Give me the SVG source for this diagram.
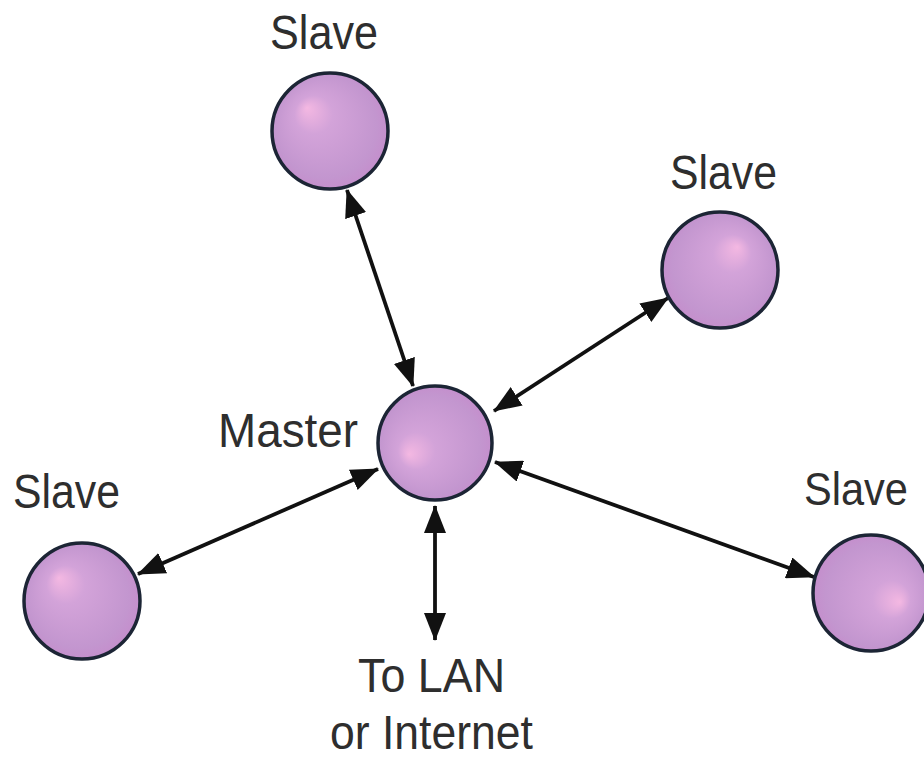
<svg xmlns="http://www.w3.org/2000/svg" width="924" height="758" viewBox="0 0 924 758">
<style>
.lbl{font-family:"Liberation Sans",Arial,sans-serif;font-size:48px;fill:#2e2e2e;}
.ball{stroke:#1c2535;stroke-width:3.5;}
.conn{stroke:#111;stroke-width:3.8;fill:none;marker-start:url(#ah);marker-end:url(#ah);}
</style>
<defs>
<marker id="ah" viewBox="0 0 28 22" refX="27" refY="11" markerWidth="28" markerHeight="22" markerUnits="userSpaceOnUse" orient="auto-start-reverse">
<path d="M0,0 L28,11 L0,22 Z" fill="#111"/>
</marker>
<radialGradient id="gTL" cx="0.5" cy="0.5" r="0.55" fx="0.3" fy="0.3">
<stop offset="0" stop-color="#f4b8e2"/><stop offset="0.3" stop-color="#d3a3d9"/><stop offset="0.8" stop-color="#c396cf"/><stop offset="1" stop-color="#c58bcb"/>
</radialGradient>
<radialGradient id="gTR" cx="0.5" cy="0.5" r="0.55" fx="0.65" fy="0.3">
<stop offset="0" stop-color="#f4b8e2"/><stop offset="0.3" stop-color="#d3a3d9"/><stop offset="0.8" stop-color="#c396cf"/><stop offset="1" stop-color="#c58bcb"/>
</radialGradient>
<radialGradient id="gBL" cx="0.5" cy="0.5" r="0.55" fx="0.27" fy="0.6">
<stop offset="0" stop-color="#f4b8e2"/><stop offset="0.3" stop-color="#d3a3d9"/><stop offset="0.8" stop-color="#c396cf"/><stop offset="1" stop-color="#c58bcb"/>
</radialGradient>
<radialGradient id="gBR" cx="0.5" cy="0.5" r="0.55" fx="0.75" fy="0.58">
<stop offset="0" stop-color="#f4b8e2"/><stop offset="0.3" stop-color="#d3a3d9"/><stop offset="0.8" stop-color="#c396cf"/><stop offset="1" stop-color="#c58bcb"/>
</radialGradient>
</defs>
<rect width="924" height="758" fill="#fff"/>
<g id="connectors">
<line class="conn" x1="347" y1="190" x2="413" y2="386"/>
<line class="conn" x1="668" y1="298" x2="494" y2="411"/>
<line class="conn" x1="138" y1="574" x2="378" y2="469"/>
<line class="conn" x1="495" y1="462" x2="814" y2="577"/>
<line class="conn" x1="435" y1="506" x2="435" y2="640"/>
</g>
<g id="slave-top">
<circle class="ball" cx="330" cy="131" r="58" fill="url(#gTL)"/>
<text class="lbl" x="270" y="49" textLength="108" lengthAdjust="spacingAndGlyphs">Slave</text>
</g>
<g id="slave-upper-right">
<circle class="ball" cx="720" cy="270" r="58" fill="url(#gTR)"/>
<text class="lbl" x="670" y="189" textLength="107" lengthAdjust="spacingAndGlyphs">Slave</text>
</g>
<g id="master">
<circle class="ball" cx="435" cy="443" r="57" fill="url(#gBL)"/>
<text class="lbl" x="218" y="447" textLength="140" lengthAdjust="spacingAndGlyphs">Master</text>
</g>
<g id="slave-left">
<circle class="ball" cx="82" cy="601" r="58" fill="url(#gTL)"/>
<text class="lbl" x="13" y="508" textLength="107" lengthAdjust="spacingAndGlyphs">Slave</text>
</g>
<g id="slave-right">
<circle class="ball" cx="871" cy="593" r="58" fill="url(#gBR)"/>
<text class="lbl" x="804" y="505" style="font-size:46px" textLength="104" lengthAdjust="spacingAndGlyphs">Slave</text>
</g>
<g id="lan">
<text class="lbl" x="358" y="692" textLength="147" lengthAdjust="spacingAndGlyphs">To LAN</text>
<text class="lbl" x="330" y="749" textLength="203" lengthAdjust="spacingAndGlyphs">or Internet</text>
</g>
</svg>
